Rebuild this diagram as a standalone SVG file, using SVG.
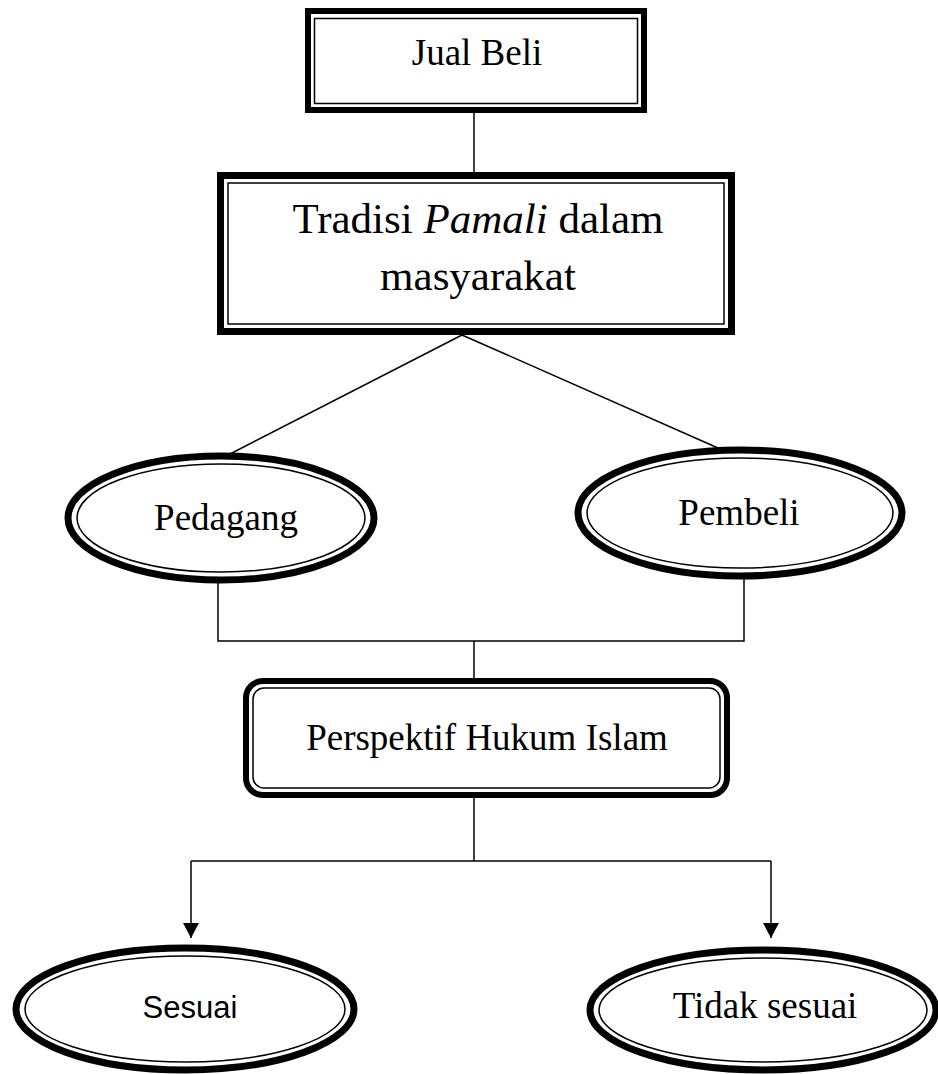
<svg xmlns="http://www.w3.org/2000/svg" width="938" height="1074" viewBox="0 0 938 1074">
<style>
.thick{fill:none;stroke:#000;stroke-width:6}
.thin{fill:none;stroke:#000;stroke-width:1.5}
.bg{fill:#fff}
.t{font-family:"Liberation Serif","Times New Roman",serif;fill:#000;text-anchor:middle}
.s{font-family:"Liberation Sans",Arial,sans-serif;fill:#000;text-anchor:middle}
.c{fill:none;stroke:#000;stroke-width:1.5}
</style>
<defs>
<marker id="arr" markerWidth="16" markerHeight="16" refX="15" refY="8" orient="auto" markerUnits="userSpaceOnUse">
<path d="M0,0 L15,8 L0,16 Z" fill="#000"/>
</marker>
</defs>
<rect width="938" height="1074" fill="#fff"/>
<g id="connectors">
<line class="c" x1="474" y1="113" x2="474" y2="172"/>
<line class="c" x1="462" y1="335" x2="230" y2="454"/>
<line class="c" x1="462" y1="335" x2="718" y2="448"/>
<polyline class="c" points="218,582 218,641 744,641 744,579"/>
<line class="c" x1="474" y1="641" x2="474" y2="678"/>
<line class="c" x1="474" y1="798" x2="474" y2="861"/>
<line class="c" x1="191" y1="861" x2="771" y2="861"/>
<line class="c" x1="191" y1="861" x2="191" y2="938" marker-end="url(#arr)"/>
<line class="c" x1="771" y1="861" x2="771" y2="938" marker-end="url(#arr)"/>
</g>
<g id="jual-beli">
<rect class="thick bg" x="308" y="11" width="336" height="99"/>
<rect class="thin" x="314.5" y="18.5" width="323" height="85"/>
<text class="t" x="477" y="65" font-size="37">Jual Beli</text>
</g>
<g id="tradisi">
<rect class="thick bg" x="220.5" y="175.5" width="511" height="156" style="stroke-width:7"/>
<rect class="thin" x="228" y="183" width="496" height="141"/>
<text class="t" x="478" y="233" font-size="43">Tradisi <tspan font-style="italic">Pamali</tspan> dalam</text>
<text class="t" x="478" y="290" font-size="43">masyarakat</text>
</g>
<g id="pedagang">
<ellipse class="thick bg" cx="221" cy="518" rx="153" ry="62" style="stroke-width:7"/>
<ellipse class="thin" cx="221" cy="518" rx="144" ry="54"/>
<text class="t" x="226" y="530" font-size="37">Pedagang</text>
</g>
<g id="pembeli">
<ellipse class="thick bg" cx="740" cy="513" rx="162" ry="63" style="stroke-width:7"/>
<ellipse class="thin" cx="740" cy="513" rx="153" ry="55"/>
<text class="t" x="739" y="525" font-size="37">Pembeli</text>
</g>
<g id="perspektif">
<rect class="thick bg" x="246" y="681" width="481" height="114" rx="17"/>
<rect class="thin" x="253" y="688" width="467" height="100" rx="11"/>
<text class="t" x="487" y="750" font-size="37">Perspektif Hukum Islam</text>
</g>
<g id="sesuai">
<ellipse class="thick bg" cx="185" cy="1009" rx="169" ry="61" style="stroke-width:7"/>
<ellipse class="thin" cx="185" cy="1009" rx="160" ry="53"/>
<text class="s" x="190" y="1018" font-size="31">Sesuai</text>
</g>
<g id="tidak-sesuai">
<ellipse class="thick bg" cx="763" cy="1010" rx="173" ry="60" style="stroke-width:7"/>
<ellipse class="thin" cx="763" cy="1010" rx="164" ry="52"/>
<text class="t" x="765" y="1018" font-size="37">Tidak sesuai</text>
</g>
</svg>
